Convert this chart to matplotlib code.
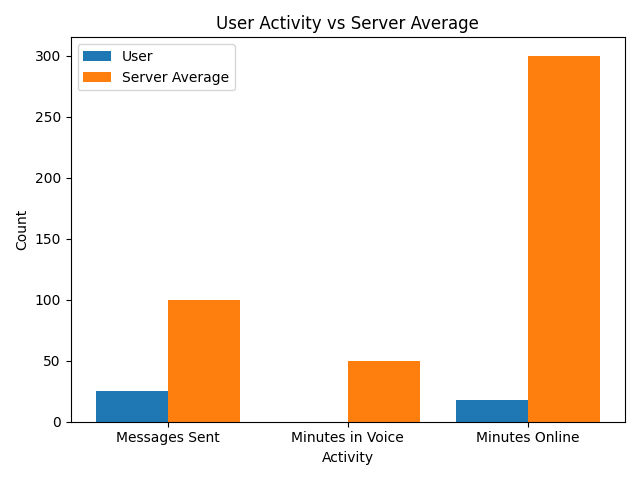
import numpy as np
import matplotlib.pyplot as plt

activities = ['Messages Sent', 'Minutes in Voice', 'Minutes Online']
user_vals = [25, 0, 18]
server_avg = [100, 50, 300]

x = np.arange(len(activities))
width = 0.4

fig, ax = plt.subplots(figsize=(6.4, 4.8), dpi=100)
ax.bar(x - width / 2, user_vals, width, label='User')
ax.bar(x + width / 2, server_avg, width, label='Server Average')

ax.set_xticks(x)
ax.set_xticklabels(activities)
ax.set_xlabel('Activity')
ax.set_ylabel('Count')
ax.set_title('User Activity vs Server Average')
ax.legend()

fig.tight_layout()
fig.savefig('out.png')
